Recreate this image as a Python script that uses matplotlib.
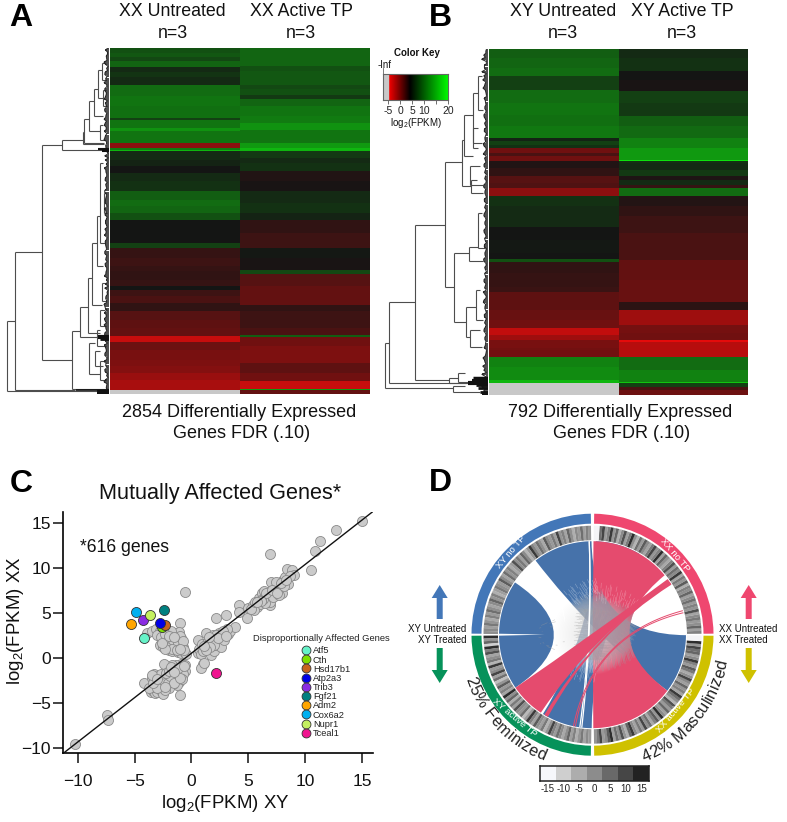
import numpy as np
import matplotlib
matplotlib.use("Agg")
import matplotlib.pyplot as plt
from matplotlib.collections import LineCollection
from matplotlib.colors import LinearSegmentedColormap, ListedColormap
from matplotlib.font_manager import FontProperties
from matplotlib.lines import Line2D
from matplotlib.patches import FancyArrow, PathPatch, Wedge
from matplotlib.path import Path
from matplotlib.textpath import text_to_path

plt.rcParams["font.family"] = ["Liberation Sans", "DejaVu Sans"]
plt.rcParams["mathtext.default"] = "regular"
W, H = 787, 822

# ---------- heatmap bands (row edges on a 1000-ish rank scale, log2 FPKM values) ----------
a1_edges = [145,160,172,185,203,218,232,255,290,320,355,360,385,395,430,445,450,455,480,500,520,545,575,600,620,640,660,700,730,745,775,800,815,840,860,870,890,910,935,960,985,1010,1028,1050,1080,1100,1120,1140,1170,1183]
a1_vals = [8,8.5,7.5,9.5,5.5,6.2,5.5,10,10.5,10.2,7,10.5,12.5,10.5,-0.6,11,15,5.5,5,4,5.5,6,9,10,9.5,8,4,4,7,2.8,2.5,2.8,3,2.8,4,2.5,2,3,1.5,1.2,1,-2.8,0.6,0.2,0,-0.3,-1,-1.6,np.nan]
a2_edges = [145,200,215,255,268,285,298,320,350,370,390,430,445,455,475,490,515,545,575,610,640,660,700,745,775,810,822,860,915,935,955,985,1007,1013,1040,1090,1120,1145,1168,1172,1183]
a2_vals = [9.5,8,8.5,7.5,8,6.5,9.5,10.5,11,12.5,10.5,13,15,6.5,5.5,6,3.5,3.8,5.5,6,5,3,2.5,4.2,3.8,7.5,1.5,1,3,2.5,2.5,2,9,0.5,0,1.2,0.5,-2.8,13,1]
b1_edges = [148,175,205,230,272,310,345,380,415,425,435,445,460,470,485,505,530,550,565,590,620,650,680,720,760,778,785,820,860,875,900,930,960,985,1005,1020,1045,1070,1100,1140,1150,1185]
b1_vals = [9,9.5,10,7,10,10.5,10.2,10.8,5,7,6,0.5,2,0.5,3.5,3,1.5,1.8,-0.6,6,5.5,5.5,4,4.2,4,8,3,2.8,2.6,1.2,1.2,0.8,0.5,-2.6,-1.2,0.2,0.4,11.5,12,15,np.nan]
b2_edges = [148,175,215,240,275,310,348,380,415,445,480,485,490,510,530,540,555,565,590,620,650,700,780,840,905,930,975,1000,1020,1026,1070,1110,1145,1150,1160,1170,1185]
b2_vals = [5.5,6,4,3.8,7,6.5,9,9.8,11.5,13,18,6,5.5,6.5,3.6,5.5,2.8,10,3.4,3,2.5,2,1,0.8,3.2,-1.2,0.3,0.5,-4,-2.2,10,11.5,16,7,2,0.6]

# ---------- dendrogram brackets: x, y of top child, y of bottom child, top child end, bottom child end ----------
a_tree = [(21,965,1175,46,325),(46,758,1172,126,225),(126,435,1082,187,217),(187,420,452,250,310),
          (250,398,432,253,312),(253,358,430,266,312),(266,305,395,283,300),(283,268,350,295,310),
          (295,212,295,305,312),(305,190,240,315,318),(217,995,1168,241,325),(241,922,1012,263,292),
          (263,835,1000,277,300),(277,730,915,290,305),(290,650,800,300,310),(300,490,730,310,315),
          (292,990,1040,300,318),(268,1030,1122,285,300),(285,1055,1100,300,310),(300,1085,1140,315,318),
          (300,375,420,310,315),(310,270,320,318,320),(305,850,905,316,318),(312,580,640,318,320),(300,930,980,314,318)]
b_tree = [(45,1028,1165,57,248),(57,907,1150,136,310),(136,675,1140,224,238),(224,487,862,275,252),
          (275,420,558,283,303),(283,345,470,310,310),(310,280,445,323,325),(323,230,330,335,340),
          (303,540,580,320,340),(252,760,965,298,288),(298,740,782,325,340),(325,640,745,335,345),
          (288,920,1010,318,300),(318,870,960,330,340),(300,990,1040,330,335),(238,1135,1150,265,300),
          (265,1120,1145,285,320),(248,1158,1175,285,330),(310,385,430,325,335),(300,500,555,330,340)]
a_leaf = [321,318,310,315,305,312,302,316,309,313,300,311,304,317,309,299,314,306,311,298,309,315,301,312,306,318,322,324,320,317,307,313,304,316,309,300,312,306,303,315,308,301,311,305,316,309,298,312,304,310,300,314,306,302,313,308,298,311,304,300,315,308,312,295,305,298,310,302,296,308,300,312,304,298,309,301,314,296,306,300,318,322,295,312,318,305]
b_leaf = [345,340,336,342,330,338,344,334,340,330,336,343,328,338,333,342,326,337,331,344,329,339,334,322,340,332,345,336,327,341,331,336,343,326,339,333,344,330,336,342,328,338,333,341,326,337,331,344,329,339,334,324,340,332,345,336,327,341,331,322,343,326,339,333,344,330,336,342,328,338,333,341,336,345,340,320,334,318,326,312,330,345,310,325,340]
# tightly packed leaf clusters: y, left end, thickness
a_dense = [(1012,295,3.0),(1018,300,2.0),(1172,228,1.2),(1176,290,3.0),(1180,295,3.0),(455,305,1.5),(448,295,1.5)]
b_dense = [(1135,310,2.5),(1142,305,3.0),(1148,295,3.0),(1155,318,2.0),(1165,325,2.0),(1175,330,2.0),(1182,335,1.5)]

# ---------- scatter ----------
gray_x = [-10.2,-7.45,-7.3,-4.2,-1.0,-0.6,-1.05,2.15,3.0,4.2,4.9,6.9,10.55,10.9,11.3,12.7,15.0,
 -3.6,-3.4,-3.2,-3.0,-3.3,-3.5,-3.3,-3.1,-2.9,-2.7,-2.6,-2.4,-2.6,-2.5,-2.9,-3.2,-2.3,-2.1,-2.2,-2.0,-1.9,-1.7,-1.8,-1.6,-1.5,-1.3,-1.4,-1.2,-1.1,-1.0,-0.9,-0.8,-0.7,-0.6,-0.6,-1.1,-1.3,-1.6,-2.0,-2.3,-0.9,-1.4,-1.7,-2.4,
 -3.7,-3.0,-2.8,-2.4,-2.1,-1.9,-1.5,-1.2,-0.9,-0.7,-0.8,-1.0,-2.7,-3.4,-3.5,-2.2,-2.0,-1.8,-1.2,-0.65,-1.5,-2.35,-3.0,
 -3.9,-3.5,-3.1,-2.8,-2.5,-2.2,-2.6,-2.2,-2.8,-2.5,-2.1,-2.0,-1.7,-1.6,-1.4,-1.8,-1.4,-1.1,-1.0,-1.2,-0.9,-0.7,-0.6,-0.9,-1.1,-1.5,-0.8,-0.7,-1.8,-2.4,-1.3,-0.5,-3.0,
 -2.7,-2.3,-2.0,-1.9,-1.6,-1.3,-1.2,-1.0,-0.8,-1.7,-2.3,-2.6,-1.3,-0.75,-0.65,-1.0,-2.0,-1.5,
 0.6,0.6,0.7,0.8,1.0,0.9,1.2,1.4,1.6,1.8,1.5,1.8,1.7,2.0,2.1,2.2,2.4,2.5,2.6,2.7,2.9,3.2,3.4,3.8,3.1,1.0,0.8,1.1,1.3,1.9,
 2.2,2.0,1.6,1.3,1.1,2.8,2.3,3.0,1.5,
 4.2,5.0,5.4,5.8,5.9,6.0,6.2,6.4,6.6,6.8,6.9,7.0,7.2,7.4,7.6,7.8,8.0,8.2,8.4,8.8,9.0,8.5,8.0,7.4,6.9,6.5,5.5,7.2,8.7,7.7,6.3,
 5.2,5.6,6.1,6.6,7.1,7.5,8.1,6.1,7.9,8.3,5.8]
gray_y = [-9.5,-6.3,-6.9,-2.7,-4.1,7.4,3.9,4.5,4.8,5.9,4.45,11.6,9.8,11.9,13.0,14.3,15.3,
 -3.8,-3.6,-3.9,-3.7,-3.2,-2.2,-1.8,-2.4,-2.0,-2.6,-3.1,-2.9,-3.7,-4.0,-3.0,-2.7,-2.2,-1.9,-1.3,-1.0,-2.5,-2.3,-1.6,-1.2,-1.9,-1.5,-2.4,-2.1,-0.9,-1.3,-1.7,-2.0,-1.1,-0.8,-1.4,-2.6,-3.0,-2.9,-3.3,-3.5,-0.6,-0.8,-0.7,-0.6,
 -3.3,-3.3,-2.2,-2.5,-2.8,-2.0,-2.7,-1.8,-1.0,-1.7,-2.3,-2.2,-1.7,-2.8,-1.9,-1.6,-1.4,-1.0,-1.1,-0.9,-1.5,-3.2,-2.3,
 2.8,3.0,3.2,3.0,2.6,3.2,2.1,2.3,1.5,1.2,1.6,0.9,0.8,2.8,2.4,1.9,1.4,2.0,1.4,0.7,0.6,0.9,0.6,2.2,2.9,1.9,1.6,1.2,3.0,1.7,1.0,0.5,2.6,
 2.4,2.7,2.2,1.3,2.0,2.1,1.7,2.5,1.3,1.0,1.0,1.7,0.9,1.9,0.9,1.0,2.5,2.4,
 2.0,0.6,1.0,0.5,0.8,1.6,1.2,1.7,2.2,2.5,1.0,1.2,0.4,0.8,1.5,2.0,2.8,1.8,1.3,2.4,2.0,2.7,3.0,3.5,3.2,-0.6,-1.1,-0.5,2.8,2.6,
 2.6,1.5,1.3,0.9,1.4,3.0,2.3,2.5,2.4,
 5.1,5.6,5.9,5.7,6.7,6.0,7.2,7.5,6.5,7.0,5.9,8.5,7.3,7.8,8.0,7.5,8.6,9.0,9.9,9.8,9.3,8.2,7.3,8.5,6.3,6.1,5.4,6.8,9.1,7.0,6.6,
 5.5,6.3,6.5,7.3,7.6,7.3,8.0,6.4,8.4,8.7,6.2]
gene_names = ["Atf5","Cth","Hsd17b1","Atp2a3","Trib3","Fgf21","Adm2","Cox6a2","Nupr1","Tceal1"]
gene_x = [-4.15,-2.6,-2.35,-2.75,-4.25,-2.45,-5.35,-4.85,-3.65,2.2]
gene_y = [2.2,3.45,3.75,3.9,4.3,5.4,3.85,5.1,4.8,-1.65]
gene_colors = ["#66f2c8","#7fe000","#c8641e","#0000e6","#8a2be2","#008080","#ffa500","#00b0f0","#c4f060","#f01490"]
ticks_xy = [-10,-5,0,5,10,15]
fit_x = [-11.27,15.94]
fit_y = [-10.56,16.29]

# ---------- chord diagram: arcs in degrees, ring stripes in log2 fold values ----------
blue_ribbons = [(90.6,127.5,-36.8,-0.3),(238,269.5,60,88)]
blue_caps = [(146,214.5)]
pink_main = [(39.5,89.4,270.5,323.2)]
pink_ribbons = [(214.5,236.5,33,36.5),(239,241.5,32.4,34.2)]
pink_threads = [(258.2,14.9),(259.4,13.6)]
white_threads = [(262.2,92),(263.4,92)]
# (a1, a2, b1, b2, t start, t stop, colour, count, alpha)
hair_sets = [(90.6,127.5,-36.8,-0.3,0.30,0.70,"#8b97a8",110,0.5),
             (146,214.5,-30,30,0.40,0.60,"#a5a5a5",90,0.5),
             (238,269.5,55,88,0.36,0.64,"#8f9bb0",70,0.5),
             (39.5,89.4,270.5,323.2,0.30,0.70,"#b08e9a",120,0.5),
             (214.5,236.5,33,36.5,0.38,0.62,"#a89aa0",60,0.5),
             (172,188,352,8,0.27,0.36,"#9a9a9a",14,0.5),
             (92,125,-34,-3,0.22,0.33,"#ffffff",40,0.35),
             (42,87,275,320,0.22,0.33,"#ffffff",45,0.3),
             (240,268,57,85,0.24,0.36,"#ffffff",30,0.35)]
hair_jitter = [0.00,0.05,0.02,0.07,0.01,0.04,0.08,0.03,0.06,0.00,0.09,0.02,0.05,0.07,0.01]
white_sliver = [(-36.8,46.4),(-28.5,30),(-27.5,11.7)]
ring_xy_no = [3,6,1,8,2,5,-2,4,9,0,6,3,12,1,7,2,5,10,-1,4,8,2,6,13,3,-3,5,9,1,7,4,11,2,-1,6,3,8,0,5,10,2,4,7,1,-2,6,3,9,5,0,4,8,2,6,-1,3,7,1,5,4]
ring_xy_active = [2,5,0,7,3,-2,6,1,9,4,-1,5,8,2,6,12,3,-3,7,1,4,10,0,6,13,2,-4,8,3,5,11,1,7,-2,9,4,14,0,6,2,10,3,-5,8,1,12,5,2,13,-3,7,4,0,11,6,14,-8,9,3,14]
ring_xx_no = [-15,-15,8,12,2,6,13,3,9,-2,5,11,1,7,14,4,-3,8,2,10,5,0,7,12,3,6,14,1,9,4,-1,6,11,2,8,5,13,0,7,3,10,-2,6,4,9,1,5,8,2,6,3,11,0,5,7,2,4,9,1,6]
ring_xx_active = [3,7,12,2,5,10,14,1,8,4,11,3,-2,9,13,5,0,7,2,12,4,8,-1,6,10,3,14,5,1,9,2,7,11,-3,4,8,13,0,6,3,9,1,5,12,4,-1,7,10,2,6,13,5,1,9,8,12,3,14,-15,-15]
key_levels = [-15,-10,-5,0,5,10,15]
key_greys = ["#f6f7fb","#cfcfcf","#adadad","#8c8c8c","#696969","#464646","#222222"]

fig = plt.figure(figsize=(W/100, H/100), dpi=100, facecolor="white")

def box(x0, y0, x1, y1, **kw):
    return fig.add_axes([x0/W, 1-y1/H, (x1-x0)/W, (y1-y0)/H], **kw)

page = box(0, 0, W, H)
page.set_xlim(0, W); page.set_ylim(H, 0); page.axis("off")

def T(x, y, s, size, **kw):
    kw.setdefault("ha", "center"); kw.setdefault("va", "center")
    page.text(x, y, s, fontsize=size, color=kw.pop("color", "#111111"), **kw)

heat_cmap = LinearSegmentedColormap.from_list("heat", [(0, (1,.04,.04)), (.36, (.08,.08,.08)), (1, (.05,1,.05))])
heat_cmap.set_bad("#c8c8c8")
key_cmap = LinearSegmentedColormap.from_list("key", [(0, (1,0,0)), (.36, (0,0,0)), (1, (0,1,0))])

def heat(x0, x1, xm, y0, y1, c1, c2):
    ax = box(x0, y0, x1, y1)
    for (edges, vals), xe in ((c1, [0, (xm-x0)/(x1-x0)]), (c2, [(xm-x0)/(x1-x0), 1])):
        ax.pcolormesh(xe, edges, np.array(vals)[:, None], cmap=heat_cmap, vmin=-5, vmax=20, rasterized=True)
    ax.set_xlim(0, 1); ax.set_ylim(max(c1[0]), min(c1[0])); ax.axis("off")

heat(110, 370, 240, 48, 394, (a1_edges, a1_vals), (a2_edges, a2_vals))
heat(488.7, 748.3, 618.7, 49, 395, (b1_edges, b1_vals), (b2_edges, b2_vals))

def dendro(x0, x1, y0, y1, xmax, ytop, ybot, tree, leaves, dense, squeeze):
    ax = box(x0, y0, x1, y1)
    segs = []
    for x, t, b, xt, xb in tree:
        segs += [[(x,t),(x,b)], [(x,t),(xt,t)], [(x,b),(xb,b)]]
    ax.add_collection(LineCollection(segs, colors="#4d4d4d", linewidths=0.8))
    lv = [xmax - (xmax - v)*squeeze for v in leaves]
    ly = np.linspace(ytop, ybot, len(lv))
    ly2 = ly[:-1] + (ly[1]-ly[0])/2
    lv2 = lv[::-1][:-1]
    for lx, ys in ((lv, ly), (lv2, ly2)):
        ax.add_collection(LineCollection([[(v,y),(xmax,y)] for v, y in zip(lx, ys)], colors="#1c1c1c", linewidths=1.1))
    merged = sorted(list(zip(ly, lv)) + list(zip(ly2, lv2)))
    ax.plot([m[1] for m in merged], [m[0] for m in merged], color="#222222", lw=0.7)
    for y, x, th in dense:
        ax.plot([x, xmax], [y, y], color="#111111", lw=th, solid_capstyle="butt")
    ax.set_xlim(0, xmax); ax.set_ylim(ybot, ytop); ax.axis("off")

dendro(0, 108.5, 48, 394, 325, 145, 1183, a_tree, a_leaf, a_dense, 0.45)
dendro(370, 487.5, 49, 395, 352, 148, 1185, b_tree, b_leaf, b_dense, 0.42)

# colour key
key = box(383.3, 73.7, 448.3, 100)
key_vals = np.linspace(-5, 20, 256)[None, :]
key.imshow(key_vals, cmap=key_cmap, aspect="auto", extent=(-5, 20, 0, 1), vmin=-5, vmax=20)
key.axvspan(-7.0, -5, color="#c8c8c8")
key.set_xlim(-7.0, 20); key.set_ylim(0, 1)
key.set_xticks([-5,0,5,10,15,20]); key.set_xticklabels(["-5","0","5","10","","20"], fontsize=7.5, color="#222222")
key.tick_params(axis="x", length=3, width=0.6, pad=1, color="#555555")
key.set_yticks([])
for s in key.spines.values():
    s.set_linewidth(0.8); s.set_color("#666666")
page.plot([383.3,383.3],[68.5,73.7], color="#666666", lw=0.6)
T(417, 53, "Color Key", 7, fontweight="bold")
T(385, 64.5, "-Inf", 7)
T(416, 122.5, "log$_2$(FPKM)", 7)

# headings
for x, s in ((172.7,"XX Untreated"),(301,"XX Active TP"),(562.7,"XY Untreated"),(682,"XY Active TP")):
    T(x, 11, s, 12.8)
    T(x, 33, "n=3", 12.8)
T(239.5, 412, "2854 Differentially Expressed", 13)
T(242, 433, "Genes FDR (.10)", 13)
T(619.7, 412, "792 Differentially Expressed", 13)
T(622, 433, "Genes FDR (.10)", 13)
for x, y, s in ((21,18.5,"A"),(440,18.5,"B"),(21,484,"C"),(440.5,483,"D")):
    T(x, y, s, 23, fontweight="bold", color="black")

# panel C
ax = box(63.3, 511.7, 372.7, 753.3)
ax.set_xlim(-11.27, 15.94); ax.set_ylim(-10.56, 16.29)
ax.patch.set_alpha(0)
ax.scatter(gray_x, gray_y, s=52, c="#cbcbcb", edgecolors="#8a8a8a", linewidths=0.6, zorder=2)
ax.plot(fit_x, fit_y, color="#111111", lw=1.0, zorder=3)
for gx_, gy_, gc, gn in zip(gene_x, gene_y, gene_colors, gene_names):
    ax.scatter([gx_],[gy_], s=52, c=gc, edgecolors="#333333", linewidths=0.6, zorder=4)
ax.spines[["top","right"]].set_visible(False)
ax.spines[["left","bottom"]].set_linewidth(1.2)
ax.set_xticks(ticks_xy); ax.set_yticks(ticks_xy)
ax.set_xticklabels(["\u2212%d" % -t if t < 0 else str(t) for t in ticks_xy], fontsize=12.5)
ax.set_yticklabels(["\u2212%d" % -t if t < 0 else str(t) for t in ticks_xy], fontsize=12.5)
ax.tick_params(length=7, width=1.1, colors="#111111")
ax.tick_params(axis="y", pad=2)
ax.tick_params(axis="x", pad=8)
T(225, 803, "log$_2$(FPKM) XY", 13.4)
T(16, 620.5, "log$_2$(FPKM) XX", 13.4, rotation=90)
T(220, 493, "Mutually Affected Genes*", 15.6)
T(80, 547, "*616 genes", 12.7, ha="left")
T(321.5, 638.7, "Disproportionally Affected Genes", 6.75, color="#222222")
handles = [Line2D([], [], ls="", marker="o", ms=6.4, mfc=c, mec="#333333", mew=0.6, label=n) for c, n in zip(gene_colors, gene_names)]
leg = ax.legend(handles=handles, frameon=False, fontsize=6.7, loc="upper left",
                bbox_to_anchor=(293.3/W, 1-641.7/H), bbox_transform=fig.transFigure, borderpad=0,
                labelspacing=0.02, handletextpad=-0.15, handlelength=1.75)
for t in leg.get_texts():
    t.set_color("#222222")

# panel D
CX, CY = 592.5, 634.7
d = box(400, 460, 787, 822)
d.axis("off"); d.patch.set_alpha(0)
BLUE, PINK, YEL, GRN = "#4377b8", "#ef476f", "#cfc100", "#06925a"
CB, CP = "#4672aa", "#e54b6e"
R_OUT, R_IN, RG_OUT, RG_IN, RC = 121, 111, 109, 94.5, 93.5
for a, b, c in ((90.8,179.5,BLUE),(0.5,89.2,PINK),(270.8,359.5,YEL),(180.5,269.2,GRN)):
    d.add_patch(Wedge((0,0), R_OUT, a, b, width=R_OUT-R_IN, fc=c, ec="none"))

ring_cmap = LinearSegmentedColormap.from_list("g", [(0,"#f4f4f6"),(.5,"#a4a4a4"),(.67,"#8a8a8a"),(.83,"#5e5e5e"),(1,"#222222")])
for vals, a, b in ((ring_xy_no,90.8,179.5),(ring_xx_no,0.5,89.2),(ring_xx_active,270.8,359.5),(ring_xy_active,180.5,269.2)):
    edges = np.linspace(a, b, len(vals)+1)
    seq = vals[::-1] if (a, b) in ((0.5,89.2),(180.5,269.2)) else vals
    for v, e0, e1 in zip(seq, edges[:-1], edges[1:]):
        d.add_patch(Wedge((0,0), RG_OUT, e0, e1+0.1, width=RG_OUT-RG_IN, fc=ring_cmap((v+15)/30), ec="none"))

def pol(a, r=RC):
    a = np.radians(a)
    return np.array([r*np.cos(a), r*np.sin(a)])

def arc(a, b, n=24):
    return [tuple(pol(t)) for t in np.linspace(a, b, n)]

def cap(a, b, c):
    pts = arc(a, b)
    verts = pts + [(0,0), pts[0], pts[0]]
    codes = [Path.MOVETO]+[Path.LINETO]*(len(pts)-1)+[Path.CURVE3, Path.CURVE3, Path.CLOSEPOLY]
    d.add_patch(PathPatch(Path(verts, codes), fc=c, ec="none", zorder=2))

def ribbon(a1, a2, b1, b2, c, z=5):
    p1, p2 = arc(a1, a2), arc(b1, b2, 12)
    verts = p1 + [(0,0), p2[0]] + p2[1:] + [(0,0), p1[0], p1[0]]
    codes = [Path.MOVETO]+[Path.LINETO]*(len(p1)-1)+[Path.CURVE3, Path.CURVE3]+[Path.LINETO]*(len(p2)-1)+[Path.CURVE3, Path.CURVE3, Path.CLOSEPOLY]
    d.add_patch(PathPatch(Path(verts, codes), fc=c, ec="none", zorder=z))

def hairs(a1, a2, b1, b2, t0, t1, c, n, alpha):
    segs = []
    for i, (u, v) in enumerate(zip(np.linspace(a1, a2, n), np.linspace(b2, b1, n))):
        j = hair_jitter[i % len(hair_jitter)]
        t = np.linspace(t0 + j, t1 - hair_jitter[(i*2+3) % len(hair_jitter)], 20)[:, None]
        pu, pv = pol(u), pol(v)
        segs.append((1-t)**2*pu + t**2*pv)
    d.add_collection(LineCollection(segs, colors=c, linewidths=0.4, alpha=alpha, zorder=4))

def threads(pairs, c, lw, z=5):
    t = np.linspace(0, 1, 60)[:, None]
    for a, b in pairs:
        d.add_collection(LineCollection([(1-t)**2*pol(a) + t**2*pol(b)], colors=c, linewidths=lw, zorder=z))

for a1, a2, b1, b2 in blue_ribbons:
    ribbon(a1, a2, b1, b2, CB, z=2)
for a, b in blue_caps:
    cap(a, b, CB)
for a1, a2, b1, b2 in pink_main:
    ribbon(a1, a2, b1, b2, CP, z=2)
# pale centre where the chords thin out
n = 200
gx, gy = np.meshgrid(np.linspace(-60, 60, n), np.linspace(-60, 60, n))
fade = np.clip(1.5 - np.hypot(gx, gy)/27, 0, 1)
rgba = np.full((n, n, 4), 0.93); rgba[..., 3] = fade
d.imshow(rgba, extent=(-60, 60, -60, 60), origin="lower", zorder=3, interpolation="bilinear")
d.set_xlim(400-CX, 787-CX); d.set_ylim(CY-822, CY-460); d.set_aspect("auto")
for hs in hair_sets:
    hairs(*hs)
for a1, a2, b1, b2 in pink_ribbons:
    ribbon(a1, a2, b1, b2, CP)
threads(pink_threads, CP, 0.7)
threads(white_threads, "white", 0.9, z=4.5)
(sx0, sy0), (scx, scy), (sx1, sy1) = white_sliver
d.add_patch(PathPatch(Path([(sx0, sy0), (scx-2.5, scy), (sx1, sy1), (scx+0.5, scy), (sx0, sy0), (sx0, sy0)],
                           [Path.MOVETO, Path.CURVE3, Path.CURVE3, Path.CURVE3, Path.CURVE3, Path.CLOSEPOLY]),
                      fc="white", ec="none", zorder=4.5))
# wedge slit at nine o'clock
d.add_patch(PathPatch(Path([pol(179.4), (-48,0.1), pol(180.6), pol(179.4)], [Path.MOVETO, Path.LINETO, Path.LINETO, Path.CLOSEPOLY]), fc="white", ec="none", zorder=6))

for s, x, y, rot in (("XY no TP",511.5,551.5,50),("XX no TP",675,555,-50),("XY active TP",515,718,-40),("XX active TP",676,710,50)):
    d.text(x-CX, CY-y, s, fontsize=6.8, color="white", rotation=rot, ha="center", va="center", rotation_mode="anchor", zorder=7)

def arc_text(s, start, r, size):
    fp = FontProperties(family="Liberation Sans", size=size)
    def adv(t):
        return text_to_path.get_text_width_height_descent(t, fp, False)[0] * 100/72
    for i, ch in enumerate(s):
        mid = (adv(s[:i+1]) + adv(s[:i])) / 2
        th = start + np.degrees(mid / (r-5))
        x, y = pol(th, r)
        d.text(x, y, ch, fontproperties=fp, color="#222222", rotation=th+90, ha="center", va="baseline",
               rotation_mode="anchor", zorder=7)

arc_text("25% Feminized", 199, 135, 11.8)
arc_text("42% Masculinized", 292, 137.5, 11.8)

for x, y0, y1, c in ((439.7,619,585,BLUE),(439.7,648,683,GRN),(748.7,619,585,PINK),(748.7,648,683,YEL)):
    d.add_patch(FancyArrow(x-CX, CY-y0, 0, CY-y1-(CY-y0), width=6, head_width=16, head_length=13,
                           length_includes_head=True, fc=c, ec="none"))
T(466.5, 628.5, "XY Untreated", 7, ha="right")
T(466.5, 639.5, "XY Treated", 7, ha="right")
T(719, 628.5, "XX Untreated", 7, ha="left")
T(719, 639.5, "XX Treated", 7, ha="left")

cb = box(540, 766, 649, 781)
cb.pcolormesh(np.arange(8)-0.5, [0, 1], np.arange(7)[None, :], cmap=ListedColormap(key_greys), vmin=-0.5, vmax=6.5)
cb.set_xticks(range(7)); cb.set_xticklabels([str(v) for v in key_levels], fontsize=7, color="#222222")
cb.set_yticks([])
cb.tick_params(length=0, pad=2.5)
for s in cb.spines.values():
    s.set_linewidth(1.1); s.set_color("#222222")

fig.savefig("out.png", dpi=100)
